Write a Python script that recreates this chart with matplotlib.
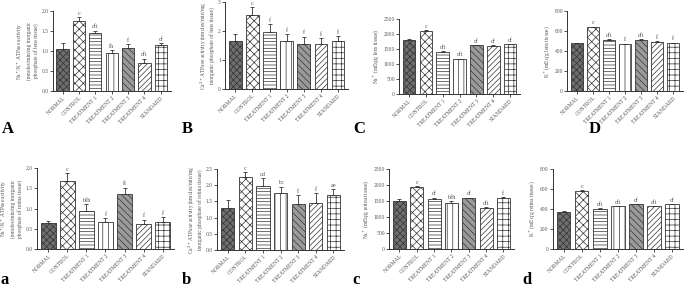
import matplotlib
matplotlib.use("Agg")
import matplotlib.pyplot as plt
import numpy as np

plt.rcParams['font.family'] = ['Liberation Serif', 'DejaVu Serif']
plt.rcParams['hatch.linewidth'] = 0.5

categories = ["NORMAL", "CONTROL", "TREATMENT 1", "TREATMENT 2",
              "TREATMENT 3", "TREATMENT 4", "STANDARD"]

# lens
lens_nak = [1.05, 1.76, 1.44, 0.96, 1.07, 0.69, 1.15]
lens_nak_err = [0.15, 0.08, 0.07, 0.06, 0.11, 0.12, 0.04]
lens_nak_sig = ["", "c", "cfi", "fh", "f", "cfi", "cf"]

lens_ca = [1.66, 2.55, 1.96, 1.67, 1.55, 1.54, 1.67]
lens_ca_err = [0.23, 0.27, 0.27, 0.22, 0.26, 0.22, 0.15]
lens_ca_sig = ["", "c", "f", "f", "f", "f", "f"]

lens_na = [1800, 2100, 1400, 1170, 1620, 1610, 1650]
lens_na_err = [15, 25, 20, 10, 10, 15, 15]
lens_na_sig = ["", "c", "cfi", "cfi", "cf", "cf", "cf"]

lens_k = [480, 640, 515, 472, 515, 490, 482]
lens_k_err = [5, 5, 3, 3, 4, 10, 3]
lens_k_sig = ["", "c", "cfi", "f", "cfi", "f", "f"]

# retina
ret_nak = [0.64, 1.68, 0.95, 0.66, 1.35, 0.63, 0.68]
ret_nak_err = [0.06, 0.19, 0.16, 0.11, 0.17, 0.10, 0.12]
ret_nak_sig = ["", "c", "bfh", "f", "fi", "f", "f"]

ret_ca = [1.29, 2.25, 1.98, 1.76, 1.43, 1.46, 1.71]
ret_ca_err = [0.24, 0.15, 0.24, 0.20, 0.26, 0.30, 0.18]
ret_ca_sig = ["", "c", "cd", "bc", "f", "f", "ae"]

ret_na = [1510, 1950, 1580, 1430, 1585, 1280, 1590]
ret_na_err = [70, 25, 30, 80, 25, 35, 35]
ret_na_sig = ["", "c", "cf", "bfh", "cf", "cfi", "f"]

ret_k = [375, 585, 402, 428, 448, 428, 448]
ret_k_err = [4, 5, 4, 4, 3, 4, 4]
ret_k_sig = ["", "c", "cfi", "cfi", "cf", "cfi", "cf"]

faces = ['#6e6e6e', 'white', 'white', 'white', '#9a9a9a', 'white', 'white']
hatches = ['xxxxx', 'xxxx', '-----', '|||', '\\\\\\\\\\', '//////', '+++']
ink = '#333333'
txt = '#555555'

panels = [
    # rect, values, err, sig, ticks, ylabel, letter, letter pos
    ([0.077, 0.686, 0.172, 0.276], lens_nak, lens_nak_err, lens_nak_sig,
     np.arange(0, 2.01, 0.5), "%.1f",
     "Na$^{+}$/K$^{+}$ ATPase activity\n(nmoles/min/mg inorganic\nphosphate of lens tissue)",
     "A", (0.003, 0.543)),
    ([0.3285, 0.693, 0.18, 0.30], lens_ca, lens_ca_err, lens_ca_sig,
     np.arange(0, 3.01, 1), "%d",
     "Ca$^{2+}$ATPase activity (nmoles/min/mg\ninorganic phosphate of lens tissue)",
     "B", (0.266, 0.543)),
    ([0.5825, 0.676, 0.177, 0.259], lens_na, lens_na_err, lens_na_sig,
     np.arange(0, 2501, 500), "%d",
     "Na$^{+}$ (mEq/g lens tissue)",
     "C", (0.515, 0.543)),
    ([0.828, 0.686, 0.169, 0.276], lens_k, lens_k_err, lens_k_sig,
     np.arange(0, 801, 200), "%d",
     "K$^{+}$ (mEq/g lens tissue)",
     "D", (0.860, 0.543)),
    ([0.054, 0.141, 0.200, 0.279], ret_nak, ret_nak_err, ret_nak_sig,
     np.arange(0, 2.01, 0.5), "%.1f",
     "Na$^{+}$/K$^{+}$ ATPase activity\n(nmoles/min/mg inorganic\nphosphate of retina tissue)",
     "a", (0.001, 0.022)),
    ([0.317, 0.138, 0.185, 0.279], ret_ca, ret_ca_err, ret_ca_sig,
     np.arange(0, 2.51, 0.5), "%.1f",
     "Ca$^{2+}$ATPase activity (nmoles/min/mg\ninorganic phosphate of retina tissue)",
     "b", (0.266, 0.022)),
    ([0.568, 0.141, 0.182, 0.276], ret_na, ret_na_err, ret_na_sig,
     np.arange(0, 2501, 500), "%d",
     "Na$^{+}$ (mEq/g retina tissue)",
     "c", (0.514, 0.022)),
    ([0.807, 0.141, 0.190, 0.276], ret_k, ret_k_err, ret_k_sig,
     np.arange(0, 801, 200), "%d",
     "K$^{+}$ (mEq/g retina tissue)",
     "d", (0.763, 0.022)),
]

fig = plt.figure(figsize=(6.85, 2.9), dpi=100)

for rect, vals, err, sig, ticks, fmt, ylabel, letter, lpos in panels:
    ax = fig.add_axes(rect)
    x = np.arange(len(categories))
    ax.bar(x, vals, width=0.75, color=faces, edgecolor=ink, hatch=hatches,
           linewidth=0.6, zorder=2)
    ax.errorbar(x, vals, yerr=[np.zeros(len(vals)), err], fmt='none',
                ecolor=ink, elinewidth=0.6, capsize=1.5, capthick=0.6, zorder=3)
    top = ticks[-1]
    for xi, v, e, s in zip(x, vals, err, sig):
        if s:
            ax.text(xi, v + e + top * 0.015, s, ha='center', va='bottom',
                    fontsize=4.5, color=txt)
    ax.set_xlim(-0.6, len(categories) - 0.4)
    ax.set_ylim(0, top)
    ax.set_yticks(ticks)
    ax.set_yticklabels([fmt % t for t in ticks])
    ax.set_xticks(x)
    ax.set_xticklabels(categories, rotation=45, ha='right',
                       rotation_mode='anchor')
    ax.tick_params(axis='both', labelsize=4, colors=txt, length=2,
                   width=0.6, pad=1)
    ax.tick_params(axis='both', color=ink)
    for side in ['top', 'right']:
        ax.spines[side].set_visible(False)
    for side in ['left', 'bottom']:
        ax.spines[side].set_linewidth(0.7)
        ax.spines[side].set_color(ink)
    ax.set_ylabel(ylabel, fontsize=4, color=txt, labelpad=2, linespacing=1.2)
    fig.text(lpos[0], lpos[1], letter, fontsize=12, fontweight='bold',
             color='black', ha='left', va='baseline')

fig.savefig("out.png", dpi=100)
